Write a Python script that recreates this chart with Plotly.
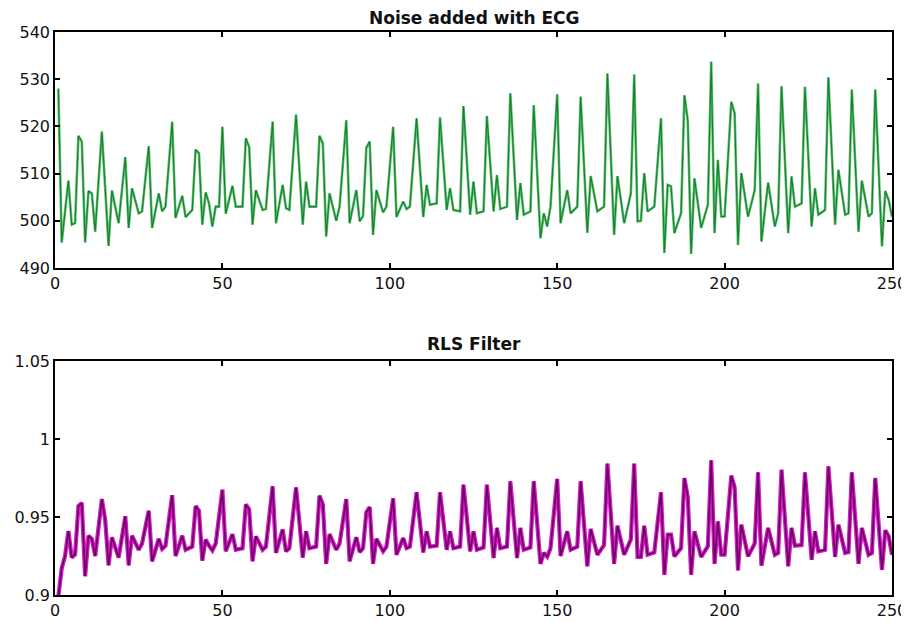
import plotly.graph_objects as go
from plotly.subplots import make_subplots

# noisy ECG (top panel) - vertices
noisy_x = [1, 2, 4, 5, 6, 7, 8, 9, 10, 11, 12, 14, 16, 17, 19, 21, 22, 23, 25, 26, 28, 29, 31, 32, 33,
           35, 36, 38, 39, 41, 42, 43, 44, 45, 46, 47, 48, 49, 50, 51, 53, 54, 56, 57, 58, 59, 60, 62, 63,
           65, 66, 68, 69, 70, 72, 74, 75, 76, 78, 79, 80, 81, 82, 84, 85, 87, 88, 90, 91, 92, 93, 94, 95,
           96, 98, 99, 101, 102, 104, 105, 106, 108, 110, 111, 112, 114, 115, 117, 118, 119, 121, 122, 124,
           125, 126, 128, 129, 131, 132, 133, 135, 136, 138, 139, 140, 142, 143, 145, 146, 147, 148, 150,
           151, 153, 154, 156, 157, 159, 160, 162, 164, 165, 167, 168, 170, 172, 173, 174, 175, 176, 177,
           179, 181, 182, 183, 184, 185, 187, 188, 189, 190, 191, 193, 195, 196, 197, 198, 199, 200, 202,
           203, 204, 205, 207, 209, 210, 211, 213, 215, 216, 217, 219, 220, 221, 223, 224, 226, 227, 228,
           230, 231, 233, 234, 236, 237, 238, 240, 241, 243, 244, 245, 247, 248, 249, 250]
noisy_y = [528, 495.4, 508.5, 499.2, 499.5, 518, 516.8, 495.4, 506.3, 505.8, 497.7, 518.9, 494.7, 506.4,
           499.5, 513.5, 498.5, 506.9, 501.6, 502, 515.8, 498.5, 505.8, 502, 503, 521, 500.6, 505.3, 500.8,
           502.3, 515.1, 514.3, 499.2, 506, 503.7, 498.8, 503, 503, 519.9, 501.5, 507.4, 503, 503, 517.5,
           515.6, 499.2, 506.5, 502.3, 502.5, 521, 499.5, 507.6, 502.7, 502.3, 522.5, 499.2, 508.3, 503,
           503, 518, 516.4, 496.7, 505.8, 500, 503, 521.3, 499.5, 506.5, 499.9, 501, 515.5, 516.8, 497,
           506.5, 501.8, 503, 519.9, 500.8, 504.1, 502.5, 503, 521.7, 500.8, 507.6, 503.4, 503.7, 521.9,
           502.3, 506.9, 502.3, 502, 524.3, 501.3, 508.3, 501.6, 502, 522.2, 502, 509.7, 502.5, 503, 527,
           500.2, 508, 501.3, 502, 524.5, 496.3, 501.6, 498.8, 503, 526.8, 499.5, 506.5, 501.6, 503, 526.3,
           497.5, 509.5, 502, 503, 531.2, 497, 509.5, 499.5, 505.8, 531, 499.9, 500, 510.1, 502, 503, 521.7,
           493.2, 507.6, 507.3, 497.4, 501.6, 526.6, 521.3, 493, 509, 498.5, 503.4, 533.7, 497.4, 512.9,
           500.9, 500.9, 525.2, 522.8, 494.9, 510.1, 500.9, 506.5, 529.1, 495.6, 508.1, 498.8, 501.6, 528.5,
           497.4, 509.4, 503, 503.7, 528.4, 498.8, 506.9, 501.3, 502.3, 530.4, 499.2, 510.8, 501.3, 501.6,
           527.8, 497.7, 508.5, 500.9, 501.6, 527.8, 494.6, 506.3, 504.4, 500.9]

# RLS filter output (bottom panel)
rls_x = [1, 2, 3, 4, 5, 6, 7, 8, 9, 10, 11, 12, 14, 15, 16, 17, 19, 21, 22, 23, 25, 26, 28, 29, 31, 32,
         33, 35, 36, 38, 39, 41, 42, 43, 44, 45, 46, 47, 48, 50, 51, 53, 54, 56, 57, 58, 59, 60, 62, 63,
         65, 66, 68, 69, 70, 72, 74, 75, 76, 78, 79, 80, 81, 82, 84, 85, 87, 88, 90, 91, 92, 93, 94, 95,
         96, 98, 99, 101, 102, 104, 105, 106, 108, 110, 111, 112, 114, 115, 117, 118, 119, 121, 122, 124,
         125, 126, 128, 129, 131, 132, 133, 135, 136, 138, 139, 140, 142, 143, 145, 146, 147, 148, 150,
         151, 153, 154, 156, 157, 159, 160, 162, 164, 165, 167, 168, 170, 172, 173, 174, 175, 176, 177,
         179, 181, 182, 183, 184, 185, 187, 188, 189, 190, 191, 193, 195, 196, 197, 198, 199, 200, 202,
         203, 204, 205, 207, 209, 210, 211, 213, 215, 216, 217, 219, 220, 221, 223, 224, 226, 227, 228,
         230, 231, 233, 234, 236, 237, 238, 240, 241, 243, 244, 245, 247, 248, 249, 250]
rls_y = [0.899, 0.917, 0.925, 0.941, 0.924, 0.926, 0.957, 0.959, 0.912, 0.938, 0.936, 0.925, 0.9615,
         0.948, 0.919, 0.937, 0.924, 0.9505, 0.919, 0.938, 0.929, 0.933, 0.954, 0.9216, 0.936, 0.9295,
         0.9316, 0.964, 0.925, 0.938, 0.929, 0.931, 0.957, 0.954, 0.922, 0.9355, 0.9316, 0.9286, 0.933,
         0.9675, 0.928, 0.939, 0.929, 0.930, 0.958, 0.955, 0.9216, 0.9376, 0.929, 0.931, 0.9697, 0.927,
         0.942, 0.928, 0.930, 0.969, 0.924, 0.9408, 0.930, 0.931, 0.9637, 0.958, 0.920, 0.939, 0.929,
         0.933, 0.9615, 0.9216, 0.937, 0.9275, 0.930, 0.953, 0.9564, 0.920, 0.936, 0.928, 0.931, 0.962,
         0.9258, 0.9365, 0.930, 0.931, 0.9658, 0.9273, 0.9408, 0.931, 0.9316, 0.9658, 0.929, 0.9408,
         0.930, 0.931, 0.9707, 0.928, 0.9408, 0.929, 0.9305, 0.9707, 0.9237, 0.943, 0.930, 0.931, 0.9729,
         0.9237, 0.943, 0.929, 0.9305, 0.9729, 0.920, 0.927, 0.9245, 0.930, 0.9744, 0.925, 0.9408, 0.929,
         0.931, 0.9729, 0.9184, 0.9423, 0.9258, 0.932, 0.9842, 0.920, 0.9444, 0.9258, 0.9355, 0.9842,
         0.9244, 0.9244, 0.9444, 0.9258, 0.9273, 0.9658, 0.913, 0.9387, 0.9387, 0.9248, 0.930, 0.975,
         0.963, 0.913, 0.9408, 0.9244, 0.9312, 0.9863, 0.920, 0.9472, 0.9258, 0.9258, 0.9765, 0.969,
         0.9158, 0.9451, 0.9248, 0.933, 0.9786, 0.9188, 0.943, 0.9258, 0.927, 0.9803, 0.9184, 0.943,
         0.9316, 0.932, 0.9786, 0.9226, 0.9408, 0.928, 0.929, 0.9825, 0.9244, 0.9451, 0.927, 0.9275,
         0.9786, 0.920, 0.943, 0.9258, 0.927, 0.975, 0.9162, 0.9415, 0.9376, 0.9258]

x_ticks = [0, 50, 100, 150, 200, 250]
top_yticks = [490, 500, 510, 520, 530, 540]
bot_yticks = [0.9, 0.95, 1.0, 1.05]
bot_ytext = ["0.9", "0.95", "1", "1.05"]

fig = make_subplots(rows=2, cols=1)

# green noisy signal (soft halo + darker core)
fig.add_trace(go.Scatter(x=noisy_x, y=noisy_y, mode="lines",
                         line=dict(color="#5cc070", width=2.6)), row=1, col=1)
fig.add_trace(go.Scatter(x=noisy_x, y=noisy_y, mode="lines",
                         line=dict(color="#17802e", width=1.1)), row=1, col=1)
# magenta filtered signal
fig.add_trace(go.Scatter(x=rls_x, y=rls_y, mode="lines",
                         line=dict(color="#d21cc4", width=4.2)), row=2, col=1)
fig.add_trace(go.Scatter(x=rls_x, y=rls_y, mode="lines",
                         line=dict(color="#6e0066", width=1.6)), row=2, col=1)

axis_style = dict(showgrid=False, zeroline=False, showline=True, linecolor="black", linewidth=1.5,
                  mirror="ticks", ticks="inside", ticklen=5, tickwidth=1.5, tickcolor="black",
                  automargin=False,
                  tickfont=dict(family="DejaVu Sans", size=16, color="#111"))

fig.update_xaxes(range=[0, 250], tickvals=x_ticks, **axis_style)
fig.update_yaxes(range=[490, 540], tickvals=top_yticks, domain=[0.5808, 1.0],
                 row=1, col=1, **axis_style)
fig.update_yaxes(range=[0.9, 1.05], tickvals=bot_yticks, ticktext=bot_ytext, domain=[0.0, 0.4156],
                 row=2, col=1, **axis_style)

title_font = dict(family="DejaVu Sans", size=17, color="#111")

# the page body adds an 8px offset, so margins are trimmed to land the axes where the original has them
fig.update_layout(
    width=909, height=622,
    margin=dict(l=47, r=25, t=24, b=35),
    paper_bgcolor="white", plot_bgcolor="white",
    showlegend=False,
    annotations=[
        dict(text="<b>Noise added with ECG</b>", x=0.5, y=1.0, xref="paper", yref="paper",
             xanchor="center", yanchor="bottom", yshift=2, showarrow=False, font=title_font),
        dict(text="<b>RLS Filter</b>", x=0.5, y=0.4156, xref="paper", yref="paper",
             xanchor="center", yanchor="bottom", yshift=5, showarrow=False, font=title_font),
    ],
)

fig.write_html("out.html")
